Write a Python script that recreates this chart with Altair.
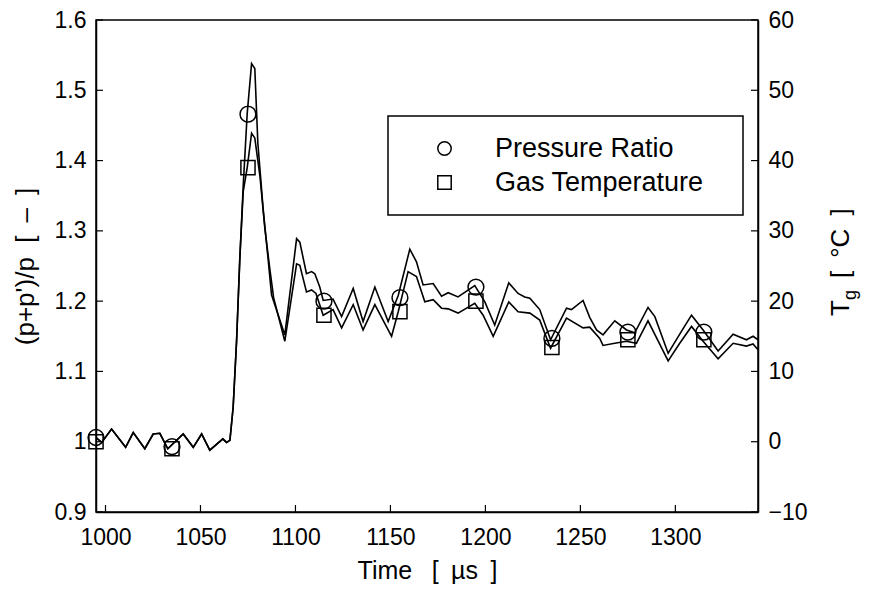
import altair as alt
import pandas as pd

# ---------------- data ----------------
p_time = [995, 998, 1003.2, 1010.6, 1014.6, 1020.7, 1025.1, 1028.6, 1032.8, 1040.9,
          1046.2, 1050.6, 1054.9, 1061.8, 1063.7, 1065.5, 1067.2, 1069, 1070.7, 1072.5,
          1074.6, 1076.9, 1078.6, 1080.2, 1083, 1085.6, 1087.4, 1094.4, 1100.6, 1102.3,
          1105.8, 1108.5, 1110.2, 1112.8, 1114.6, 1119.8, 1124.3, 1130.4, 1135.6, 1141.8,
          1148.8, 1154.1, 1160.2, 1163.7, 1167.2, 1172.5, 1176.9, 1180.4, 1185.6, 1194.4,
          1199.7, 1204.9, 1212.3, 1217.2, 1220.7, 1223.4, 1228.6, 1234.3, 1242.7, 1245.3,
          1251.4, 1254.9, 1258.5, 1261.9, 1268.1, 1274.3, 1278.6, 1285.6, 1289.2, 1296.2,
          1302.3, 1308.5, 1314.6, 1322.5, 1330.4, 1337.4, 1340.9, 1343.5]
p_value = [1.006, 0.999, 1.018, 0.992, 1.013, 0.990, 1.011, 1.012, 0.990, 1.011,
           0.992, 1.011, 0.988, 1.004, 0.999, 1.002, 1.049, 1.143, 1.260, 1.364,
           1.467, 1.538, 1.531, 1.425, 1.331, 1.260, 1.209, 1.152, 1.289, 1.284,
           1.239, 1.242, 1.239, 1.220, 1.201, 1.203, 1.178, 1.218, 1.171, 1.220,
           1.171, 1.208, 1.274, 1.256, 1.223, 1.225, 1.207, 1.212, 1.206, 1.222,
           1.199, 1.166, 1.226, 1.211, 1.206, 1.204, 1.188, 1.145, 1.190, 1.188,
           1.201, 1.177, 1.159, 1.152, 1.172, 1.159, 1.155, 1.191, 1.178, 1.126,
           1.153, 1.180, 1.159, 1.129, 1.153, 1.145, 1.150, 1.145]

t_time = [995, 998, 1003.2, 1010.6, 1014.6, 1020.7, 1025.1, 1028.6, 1032.8, 1040.9,
          1046.2, 1050.6, 1054.9, 1061.8, 1063.7, 1065.5, 1067.2, 1069, 1070.7, 1072.5,
          1074.6, 1076.9, 1078.6, 1081.3, 1083.9, 1086.5, 1088.5, 1094.4, 1100.6, 1102.3,
          1105.8, 1108.5, 1110.8, 1114.6, 1119.8, 1124.3, 1130.4, 1135.6, 1141.8, 1150.6,
          1154.1, 1159.3, 1163.7, 1168.1, 1172.5, 1176.9, 1180.4, 1185.6, 1194.4, 1198.8,
          1204.1, 1212.3, 1217.2, 1223.4, 1228.6, 1234.3, 1242.7, 1251.4, 1254.9, 1260.2,
          1261.9, 1268.1, 1274.3, 1279.5, 1285.6, 1296.2, 1302.3, 1308.5, 1314.6, 1322.5,
          1330.4, 1337.4, 1340.9, 1343.5]
t_value = [0.6, -0.1, 1.8, -0.8, 1.3, -1.0, 1.1, 1.2, -1.0, 1.1,
           -0.8, 1.1, -1.2, 0.4, -0.1, 0.2, 4.9, 14.3, 26.0, 35.6,
           39.0, 43.9, 43.2, 37.8, 30.3, 24.6, 20.5, 14.3, 25.3, 25.1,
           21.3, 21.6, 21.1, 18.0, 18.8, 16.2, 19.5, 15.9, 19.5, 15.0,
           18.5, 24.2, 23.5, 19.9, 20.2, 19.0, 18.9, 18.3, 19.7, 18.0,
           15.0, 19.9, 18.5, 18.3, 17.3, 13.3, 17.6, 16.2, 16.3, 14.7,
           13.7, 14.0, 14.3, 14.0, 17.2, 11.5, 14.0, 16.4, 14.3, 11.8,
           14.0, 13.6, 13.9, 13.1]

marker_time = [995, 1035, 1075, 1115, 1155, 1195, 1235, 1275, 1315]
marker_p = [1.006, 0.993, 1.466, 1.200, 1.205, 1.220, 1.147, 1.156, 1.156]
marker_t = [0.0, -1.0, 39.0, 18.0, 18.5, 20.0, 13.4, 14.5, 14.5]

series = ["Pressure Ratio", "Gas Temperature"]
x_ticks = [1000, 1050, 1100, 1150, 1200, 1250, 1300]
p_ticks = [0.9, 1.0, 1.1, 1.2, 1.3, 1.4, 1.5, 1.6]
t_ticks = [-10, 0, 10, 20, 30, 40, 50, 60]

# ---------------- layout ----------------
W, H = 662, 492
FONT = "Liberation Sans"
TICK = 7
NB = "\u00a0"
EN = "\u2002"
BLANK = "\u2800"

p_df = pd.DataFrame({"time": p_time, "p": p_value})
t_df = pd.DataFrame({"time": t_time, "T": t_value})
pm_df = pd.DataFrame({"time": marker_time, "p": marker_p, "series": series[0]})
tm_df = pd.DataFrame({"time": marker_time, "T": marker_t, "series": series[1]})
xt_df = pd.DataFrame({"time": x_ticks})
pt_df = pd.DataFrame({"p": p_ticks})
tt_df = pd.DataFrame({"T": t_ticks})

xscale = alt.Scale(domain=[995, 1343.5], nice=False, zero=False)
pscale = alt.Scale(domain=[0.9, 1.6], nice=False, zero=False)
tscale = alt.Scale(domain=[-10, 60], nice=False, zero=False)

x_axis = alt.Axis(values=x_ticks, format="d", ticks=False, grid=False,
                  title=f"Time{EN}{NB}[{EN}µs{EN}]", labelPadding=14, titlePadding=9,
                  labelFontSize=23, titleFontSize=25)
p_axis = alt.Axis(values=p_ticks, format="~g", ticks=False, grid=False,
                  title=f"(p+p')/p{NB}{NB}[{EN}–{EN}]", labelPadding=10, titlePadding=16,
                  labelFontSize=23, titleFontSize=26)
t_axis = alt.Axis(values=t_ticks, format="d", ticks=False, grid=False, orient="right",
                  title=None, labelPadding=10, labelFontSize=23)

X = alt.X("time:Q", scale=xscale, axis=x_axis)
shape_enc = alt.Shape("series:N", scale=alt.Scale(domain=series, range=["circle", "square"]),
                      legend=alt.Legend(title=None, orient="none", legendX=292, legendY=96,
                                        labelExpr=f"datum.label + '{BLANK}'"))

p_line = alt.Chart(p_df).mark_line(color="black", strokeWidth=1.6, clip=True).encode(
    x=X, y=alt.Y("p:Q", scale=pscale, axis=p_axis))
p_marks = alt.Chart(pm_df).mark_point(filled=False, color="black", strokeWidth=1.5,
                                      size=250, opacity=1).encode(
    x=X, y=alt.Y("p:Q", scale=pscale, axis=p_axis), shape=shape_enc)
p_ticks_l = alt.Chart(pt_df).mark_rule(color="black", strokeWidth=1.2).encode(
    y=alt.Y("p:Q", scale=pscale, axis=p_axis), x=alt.value(0), x2=alt.value(TICK))
x_ticks_l = alt.Chart(xt_df).mark_rule(color="black", strokeWidth=1.2).encode(
    x=X, y=alt.value(H), y2=alt.value(H - TICK))

t_line = alt.Chart(t_df).mark_line(color="black", strokeWidth=1.6, clip=True).encode(
    x=X, y=alt.Y("T:Q", scale=tscale, axis=t_axis))
t_marks = alt.Chart(tm_df).mark_point(filled=False, color="black", strokeWidth=1.5,
                                      size=200, opacity=1).encode(
    x=X, y=alt.Y("T:Q", scale=tscale, axis=t_axis), shape=shape_enc)
t_ticks_l = alt.Chart(tt_df).mark_rule(color="black", strokeWidth=1.2).encode(
    y=alt.Y("T:Q", scale=tscale, axis=t_axis), x=alt.value(W - TICK), x2=alt.value(W))

# right axis title with subscript, drawn as text
lab_df = pd.DataFrame({"a": [1]})
tg_main = alt.Chart(lab_df).mark_text(angle=270, align="left", baseline="alphabetic",
                                      fontSize=26, font=FONT, color="black").encode(
    x=alt.value(W + 91), y=alt.value(296), text=alt.value("T"))
tg_sub = alt.Chart(lab_df).mark_text(angle=270, align="left", baseline="alphabetic",
                                     fontSize=18, font=FONT, color="black").encode(
    x=alt.value(W + 98), y=alt.value(280), text=alt.value("g"))
tg_unit = alt.Chart(lab_df).mark_text(angle=270, align="left", baseline="alphabetic",
                                      fontSize=26, font=FONT, color="black").encode(
    x=alt.value(W + 91), y=alt.value(258), text=alt.value(f"[{EN}°C{EN}]"))

left = alt.layer(p_line, p_marks, p_ticks_l, x_ticks_l)
right = alt.layer(t_line, t_marks, t_ticks_l)

chart = alt.layer(left, right, tg_main, tg_sub, tg_unit).resolve_scale(
    y="independent"
).properties(
    width=W, height=H,
    autosize=alt.AutoSizeParams(type="none"),
    padding={"left": 88, "top": 12, "right": 105, "bottom": 72},
    background="white",
).configure_view(
    stroke="black", strokeWidth=1.5
).configure_axis(
    labelFont=FONT, titleFont=FONT, labelColor="black", titleColor="black",
    titleFontWeight="normal", domainColor="black", domainWidth=1.5,
).configure_legend(
    labelFont=FONT, labelFontSize=27, labelColor="black", labelLimit=500,
    fillColor="white", strokeColor="black", strokeWidth=1.5,
    padding=19, rowPadding=6, symbolOffset=24, labelOffset=37,
    symbolSize=180, symbolStrokeWidth=1.5, symbolStrokeColor="black",
)

chart.save("out.html", embed_options={"renderer": "svg", "actions": False})
